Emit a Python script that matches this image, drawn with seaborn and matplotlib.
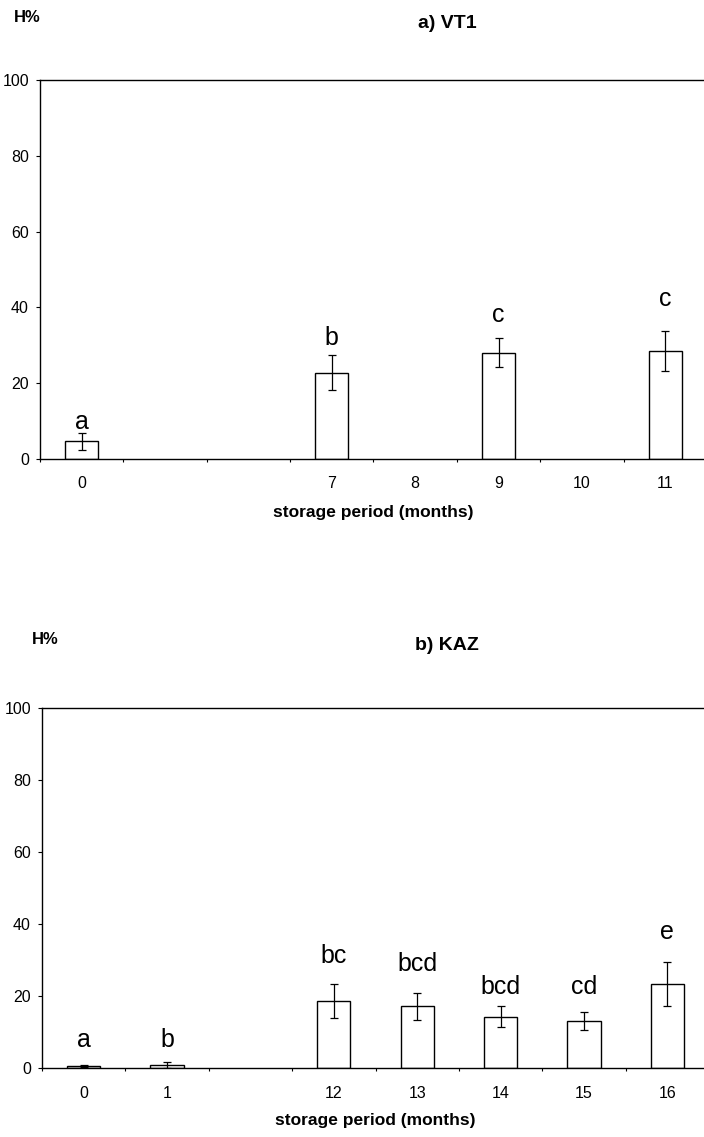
import numpy as np
import pandas as pd
import matplotlib
matplotlib.use("Agg")
import matplotlib.pyplot as plt
import seaborn as sns

# a) VT1 -- slot order on the x axis (empty slots have no label)
slots_a = ["0", "s1", "s2", "7", "8", "9", "10", "11"]
labels_a = ["0", "", "", "7", "8", "9", "10", "11"]
months_a = ["0", "7", "9", "11"]
h_a = [4.7, 22.8, 28.1, 28.6]
err_a = [2.2, 4.6, 3.8, 5.3]
letters_a = ["a", "b", "c", "c"]
letter_y_a = [9.8, 31.8, 37.9, 42.3]

# b) KAZ
slots_b = ["0", "1", "s1", "12", "13", "14", "15", "16"]
labels_b = ["0", "1", "", "12", "13", "14", "15", "16"]
months_b = ["0", "1", "12", "13", "14", "15", "16"]
h_b = [0.5, 0.9, 18.7, 17.1, 14.2, 13.0, 23.3]
err_b = [0.3, 0.8, 4.7, 3.7, 2.9, 2.5, 6.2]
letters_b = ["a", "b", "bc", "bcd", "bcd", "cd", "e"]
letter_y_b = [7.9, 7.9, 31.0, 28.8, 22.5, 22.5, 37.7]

y_ticks = [0, 20, 40, 60, 80, 100]

sns.set_style("ticks")
plt.rcParams["font.family"] = ["Liberation Sans", "DejaVu Sans"]
plt.rcParams["text.color"] = "black"
plt.rcParams["axes.labelcolor"] = "black"
plt.rcParams["xtick.color"] = "black"
plt.rcParams["ytick.color"] = "black"

W, H = 704, 1137


def draw_panel(ax, slots, labels, months, h, err, letters, letter_y,
               xlabel_y, xpad):
    """
    One bar panel with error bars and significance letters.
    """

    df = pd.DataFrame({"month": months, "H": h})

    sns.barplot(
        data=df,
        x="month",
        y="H",
        order=slots,
        width=0.4,
        color="white",
        saturation=1,
        edgecolor="black",
        linewidth=1.0,
        errorbar=None,
        ax=ax
    )

    xs = [slots.index(m) for m in months]

    ax.errorbar(
        xs,
        h,
        yerr=err,
        fmt="none",
        ecolor="black",
        elinewidth=0.9,
        capsize=3,
        capthick=0.9
    )

    for x, y, s in zip(xs, letter_y, letters):
        ax.text(x, y, s, ha="center", va="center", fontsize=18)

    ax.set_ylim(0, 100)
    ax.set_xlim(-0.5, len(slots) - 0.5)
    ax.set_yticks(y_ticks)
    ax.set_xticks(range(len(slots)))
    ax.set_xticklabels(labels)
    ax.set_xticks(np.arange(len(slots) + 1) - 0.5, minor=True)

    ax.tick_params(axis="x", which="major", length=0, pad=xpad,
                   labelsize=11.5)
    ax.tick_params(axis="x", which="minor", length=2.5, width=0.8,
                   direction="out")
    ax.tick_params(axis="y", length=3, width=0.8, pad=5, labelsize=11.5)

    for side in ["left", "top", "bottom", "right"]:
        ax.spines[side].set_visible(True)
        ax.spines[side].set_linewidth(1.0)
        ax.spines[side].set_color("black")

    ax.set_ylabel("")
    ax.set_xlabel("storage period (months)", fontsize=12.5, fontweight="bold")
    ax.xaxis.set_label_coords(0.5, xlabel_y)
    ax.xaxis.label.set_verticalalignment("center")


fig = plt.figure(figsize=(W / 100, H / 100), dpi=100)

ax_a = fig.add_axes([40 / W, 1 - 459 / H, 667 / W, 379 / H])
draw_panel(ax_a, slots_a, labels_a, months_a, h_a, err_a,
           letters_a, letter_y_a, (459 - 513) / 379, 12.5)

ax_b = fig.add_axes([42 / W, 1 - 1068 / H, 667 / W, 360 / H])
draw_panel(ax_b, slots_b, labels_b, months_b, h_b, err_b,
           letters_b, letter_y_b, (1068 - 1120) / 360, 13)

fig.text(27 / W, 1 - 17 / H, "H%", ha="center", va="center",
         fontsize=12, fontweight="bold")
fig.text(447 / W, 1 - 23.5 / H, "a) VT1", ha="center", va="center",
         fontsize=14, fontweight="bold")
fig.text(45 / W, 1 - 639 / H, "H%", ha="center", va="center",
         fontsize=12, fontweight="bold")
fig.text(447 / W, 1 - 645 / H, "b) KAZ", ha="center", va="center",
         fontsize=14, fontweight="bold")

fig.savefig("out.png", dpi=100, facecolor="white")
